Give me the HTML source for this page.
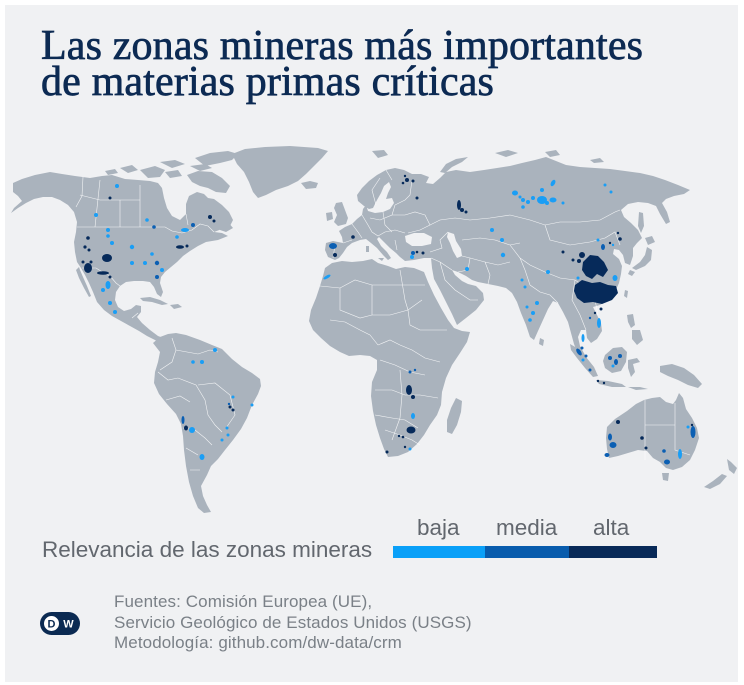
<!DOCTYPE html>
<html><head><meta charset="utf-8">
<style>
html,body{margin:0;padding:0;width:744px;height:685px;background:#fff;overflow:hidden;position:relative}
.panel{position:absolute;left:5px;top:5px;width:733px;height:677px;background:#f0f1f3}
.t{position:absolute;left:41px;font-family:"Liberation Serif",serif;color:#0c2a53;font-size:42px;line-height:42px;white-space:nowrap;-webkit-text-stroke:0.7px #0c2a53;letter-spacing:0.15px}
.s{position:absolute;font-family:"Liberation Sans",sans-serif;white-space:nowrap;line-height:1}
.lg{font-size:22.5px;color:#62676e}
.ft{font-size:17px;color:#7a8087;letter-spacing:0.1px;left:114px}
svg{position:absolute;left:0;top:0}
</style></head><body>
<div class="panel"></div>
<svg width="744" height="685" viewBox="0 0 744 685">
<g fill="#aab3bd">
<path d="M232,154 L245,149 L265,147 L290,146 L318,148 L328,151 L322,158 L314,166 L306,174 L298,181 L288,186 L276,190 L266,195 L258,198 L253,192 L249,182 L244,172 L237,164 Z"/>
<path d="M195,158 L210,153 L228,151 L238,154 L232,160 L220,163 L205,166 Z"/>
<path d="M190,166 L205,164 L212,168 L200,171 Z"/>
<path d="M187,175 L198,171 L212,172 L222,178 L230,186 L226,193 L216,192 L208,188 L200,186 L192,182 Z"/>
<path d="M140,170 L155,166 L165,170 L160,177 L148,178 Z"/>
<path d="M120,168 L132,165 L138,170 L128,173 Z"/>
<path d="M160,162 L175,160 L185,164 L172,168 Z"/>
<path d="M165,172 L178,170 L182,176 L170,178 Z"/>
<path d="M105,171 L115,169 L118,173 L108,175 Z"/>
<path d="M13,183 L22,179 L35,175 L50,172 L62,174 L75,176 L90,178 L102,176 L112,175 L125,179 L138,180 L150,181 L158,183 L162,188 L164,198 L167,208 L172,216 L180,220 L186,214 L186,204 L189,196 L197,192 L204,194 L208,198 L214,199 L222,205 L229,212 L233,220 L230,226 L222,229 L214,232 L222,233 L228,236 L218,240 L206,242 L198,246 L190,251 L183,256 L177,262 L171,267 L165,272 L161,277 L160,283 L163,292 L161,297 L157,294 L154,287 L150,282 L143,281 L134,281 L126,282 L120,286 L116,292 L115,300 L118,307 L124,311 L131,309 L136,305 L141,306 L141,312 L137,317 L142,323 L150,330 L158,336 L166,339 L172,342 L170,346 L162,344 L155,340 L147,336 L139,331 L130,326 L121,321 L112,316 L104,310 L97,302 L93,292 L89,283 L85,275 L81,268 L77,262 L75,252 L74,242 L76,232 L77,222 L74,212 L68,205 L60,200 L52,197 L43,197 L34,199 L26,203 L18,208 L11,213 L14,208 L22,201 L18,196 L13,192 Z"/>
<path d="M79,267 L76,270 L79,278 L84,288 L89,297 L91,296 L87,286 L83,277 L80,270 Z"/>
<path d="M140,298 L150,297 L160,300 L168,304 L162,305 L152,302 L143,301 Z"/>
<path d="M170,305 L178,304 L182,307 L174,309 Z"/>
<path d="M220,224 L228,222 L233,228 L226,232 L220,230 Z"/>
<path d="M153,343 L160,337 L168,334 L176,333 L186,335 L200,340 L212,345 L222,349 L232,359 L242,367 L252,373 L260,379 L261,386 L258,394 L252,405 L247,418 L241,429 L233,440 L225,450 L218,459 L211,466 L207,475 L201,486 L203,496 L207,505 L211,512 L204,513 L198,508 L193,496 L189,482 L186,466 L184,450 L183,436 L181,424 L176,414 L167,404 L159,394 L154,383 L155,372 L158,362 L160,352 Z"/>
<path d="M325,268 L332,263 L342,261 L352,262 L363,261 L372,259 L378,263 L388,266 L396,269 L405,267 L414,268 L424,272 L428,282 L434,295 L441,308 L448,320 L454,328 L462,331 L470,332 L467,342 L460,353 L452,365 L446,378 L442,392 L441,405 L437,415 L430,425 L424,435 L417,444 L408,452 L398,456 L388,457 L384,449 L380,438 L376,425 L373,411 L371,396 L372,382 L377,370 L377,360 L370,356 L360,355 L349,356 L340,352 L330,346 L321,338 L313,330 L309,321 L311,310 L316,298 L320,286 L323,276 Z"/>
<path d="M456,398 L462,401 L461,412 L457,425 L452,434 L447,432 L447,420 L451,408 Z"/>
<path d="M335,260 L328,257 L325,250 L326,243 L333,241 L343,243 L342,237 L339,231 L345,227 L352,224 L357,219 L362,215 L363,209 L366,205 L368,211 L375,213 L383,212 L390,209 L394,203 L392,198 L386,199 L388,193 L391,187 L389,182 L384,186 L381,193 L377,200 L373,208 L369,209 L364,206 L358,201 L357,195 L362,188 L369,181 L377,175 L386,170 L395,168 L404,170 L412,174 L421,174 L429,177 L426,183 L433,184 L440,178 L446,172 L456,170 L470,172 L484,170 L497,168 L510,166 L522,163 L535,160 L546,157 L556,161 L566,165 L580,167 L595,168 L610,169 L625,171 L640,173 L653,176 L665,180 L678,185 L690,190 L684,194 L674,196 L666,199 L662,203 L667,212 L670,222 L666,224 L660,214 L656,206 L648,203 L638,202 L628,204 L621,210 L624,217 L631,223 L638,230 L642,238 L637,243 L633,248 L633,256 L630,265 L625,263 L623,255 L619,250 L614,249 L613,254 L619,259 L622,266 L621,274 L619,283 L615,292 L609,299 L600,305 L593,307 L597,315 L601,323 L602,331 L597,339 L591,343 L587,338 L586,330 L581,330 L578,337 L580,346 L585,355 L588,362 L584,362 L578,354 L574,344 L571,333 L568,322 L563,312 L558,303 L553,301 L548,309 L543,320 L538,331 L534,340 L530,337 L526,325 L521,313 L517,302 L512,293 L506,288 L498,286 L488,284 L478,282 L472,280 L466,276 L458,272 L452,270 L455,275 L462,281 L468,284 L476,286 L483,293 L484,300 L476,310 L466,318 L457,325 L452,314 L446,302 L440,290 L434,279 L432,268 L431,258 L424,258 L414,260 L405,261 L400,257 L396,253 L390,248 L384,242 L379,237 L377,239 L381,246 L387,252 L391,258 L388,260 L383,255 L377,248 L371,243 L366,239 L360,240 L352,243 L347,247 L343,253 L339,258 Z"/>
<path d="M336,203 L342,202 L345,210 L348,218 L346,224 L338,226 L334,222 L337,215 L334,208 Z"/>
<path d="M326,213 L332,212 L333,219 L327,221 Z"/>
<path d="M301,183 L310,181 L318,183 L316,188 L306,189 Z"/>
<path d="M372,151 L384,150 L388,155 L378,158 Z"/>
<path d="M440,172 L446,164 L456,159 L468,157 L462,162 L452,167 L445,173 Z"/>
<path d="M495,153 L508,150 L518,153 L506,157 Z"/>
<path d="M545,152 L556,150 L560,155 L550,157 Z"/>
<path d="M590,160 L600,158 L604,162 L594,163 Z"/>
<path d="M639,212 L643,213 L644,226 L641,233 L638,226 Z"/>
<path d="M645,238 L652,236 L655,242 L648,245 Z"/>
<path d="M647,247 L652,250 L651,260 L645,266 L636,270 L632,268 L640,262 L645,255 Z"/>
<path d="M630,270 L635,272 L632,276 L628,274 Z"/>
<path d="M625,290 L628,291 L627,298 L624,296 Z"/>
<path d="M590,311 L595,311 L594,316 L590,315 Z"/>
<path d="M540,338 L544,340 L543,346 L539,344 Z"/>
<path d="M627,315 L633,314 L635,325 L631,328 L628,322 Z"/>
<path d="M632,330 L640,330 L643,340 L637,345 L632,339 Z"/>
<path d="M570,344 L577,348 L586,357 L594,367 L598,376 L593,377 L585,368 L577,358 L571,350 Z"/>
<path d="M605,355 L613,348 L622,347 L627,352 L626,362 L621,371 L612,373 L605,368 L603,361 Z"/>
<path d="M596,380 L608,381 L622,384 L626,387 L612,387 L599,384 Z"/>
<path d="M628,387 L640,387 L648,389 L636,390 Z"/>
<path d="M628,360 L637,358 L640,362 L633,364 L635,372 L631,377 L628,368 Z"/>
<path d="M660,366 L672,364 L684,368 L694,375 L702,384 L698,388 L688,385 L678,380 L668,376 L660,372 Z"/>
<path d="M607,427 L615,419 L627,411 L636,404 L644,400 L652,398 L660,397 L666,402 L673,404 L676,400 L679,393 L683,398 L686,409 L692,418 L697,428 L699,438 L695,450 L690,460 L682,467 L673,470 L666,468 L660,462 L653,458 L647,451 L638,450 L628,453 L618,456 L609,458 L607,449 L606,438 Z"/>
<path d="M662,473 L669,473 L668,481 L663,480 Z"/>
<path d="M727,459 L731,462 L737,468 L734,474 L729,470 Z"/>
<path d="M722,474 L727,476 L720,484 L710,489 L704,487 L713,481 Z"/>
<path d="M366,246 L369,246 L369,252 L366,252 Z"/>
<path d="M378,258 L384,258 L382,261 Z"/>
</g>
<g fill="#f0f1f3">
<path d="M405,236 L414,233 L424,233 L432,237 L431,244 L422,246 L412,246 L406,242 Z"/>
<path d="M448,232 L454,234 L456,241 L461,249 L462,256 L457,258 L453,251 L450,243 L447,237 Z"/>
</g>
<g fill="none" stroke="#fff" stroke-width="0.6" stroke-opacity="0.85">
<path d="M77,227 L165,227 L172,231 L182,233 L192,230 L200,224 L208,226 L214,232"/>
<path d="M83,177 L82,196 L76,207"/>
<path d="M82,268 L96,268 L104,273 L110,276 L116,283 L120,286"/>
<path d="M132,318 L138,313"/>
<path d="M100,180 L95,227 M120,200 L120,227 M140,185 L140,227 M80,195 L100,200 L140,200 M186,214 L188,225"/>
<path d="M172,338 L176,350 L172,362 L160,370 M176,350 L198,354 L210,350 L218,352 M158,372 L168,380 L178,378 L196,385 L205,400 L208,415 L215,425 L222,432 M166,400 L180,396 L190,402 M183,428 L195,430 L205,438 L212,445 M186,448 L198,455 M190,470 L200,470 M198,385 L215,383 L230,395 L235,415 L226,428"/>
<path d="M320,286 L340,288 L355,280 L372,285 L390,285 L410,285 L425,285 M340,288 L340,310 L360,318 L372,315 L390,315 L408,310 L422,300 M372,285 L372,315 M400,270 L405,300 L408,310 L410,325 L420,330 L435,330 L447,330 M330,320 L345,322 L360,330 L370,335 L378,345 M378,345 L390,340 L400,345 L412,350 L425,358 L440,362 M380,360 L395,365 L410,372 L425,375 M375,390 L392,390 L405,395 L420,395 L438,398 M375,415 L392,418 L405,420 L418,428 M385,430 L400,435 L412,440 L420,445 M400,370 L402,395 L400,418 L392,440"/>
<path d="M343,243 L352,240 M335,245 L333,258 M352,224 L358,232 L362,238 M362,215 L368,225 L372,232 L378,236 M370,218 L380,220 L392,215 L395,205 M378,236 L385,232 L395,230 L405,233 M383,212 L385,225 L392,232 M392,215 L405,215 L415,212 L425,215 L430,225 L420,230 L408,233 M395,205 L405,200 L410,195 L412,180 M376,205 L372,190 L380,178 M386,170 L392,180 M395,240 L397,250"/>
<path d="M430,225 L440,220 L455,218 L470,220 L490,218 L510,215 L530,220 L545,225 L560,222 L580,222 L600,220 L615,212 L620,210 M448,232 L440,240 L442,248 L430,252 M462,256 L470,258 L485,262 L498,265 L510,262 M462,240 L480,238 L495,240 L510,245 L520,243 M510,245 L520,258 L530,265 L545,272 L560,278 L575,280 L590,290 L600,300 M545,225 L550,240 L570,245 L590,242 L605,238 L615,232 L620,245 M485,262 L490,275 L488,284 M470,258 L468,270 L458,272 M520,258 L525,270 L530,285 L540,292 L550,295 L558,303 M575,280 L572,300 L580,315 L586,330 M590,290 L595,300 L598,315 M431,258 L440,262 L452,270 M440,262 L445,280 L455,290 L470,300 L478,300"/>
<path d="M645,400 L645,460 M645,425 L675,425 M675,403 L675,450 L690,455"/>
</g>
<g fill="#1a9ef5">
<circle cx="117" cy="186" r="2"/><circle cx="96" cy="215" r="2"/><circle cx="147" cy="220" r="1.8"/>
<ellipse cx="185" cy="230" rx="4" ry="2"/><circle cx="108" cy="230" r="2"/><circle cx="108" cy="236" r="1.8"/>
<circle cx="112" cy="243" r="2"/><circle cx="132" cy="247" r="2.2"/><circle cx="177" cy="237" r="1.8"/>
<circle cx="152" cy="254" r="1.8"/><circle cx="132" cy="263" r="2"/><circle cx="145" cy="263" r="2"/>
<circle cx="162" cy="270" r="2"/><ellipse cx="108" cy="285" rx="2.5" ry="4"/><circle cx="103" cy="290" r="2"/>
<circle cx="110" cy="303" r="2"/><circle cx="115" cy="312" r="2"/>
<ellipse cx="327" cy="277" rx="4" ry="1.5" transform="rotate(-30 327 277)"/>
<ellipse cx="515" cy="193" rx="3" ry="2.5"/><circle cx="523" cy="200" r="2"/><circle cx="528" cy="202" r="2"/>
<circle cx="520" cy="197" r="1.5"/><circle cx="542" cy="190" r="2"/><ellipse cx="542" cy="200" rx="5" ry="4"/>
<ellipse cx="553" cy="183" rx="2" ry="3.5" transform="rotate(30 553 183)"/><ellipse cx="553" cy="200" rx="3.5" ry="2.5"/>
<circle cx="563" cy="203" r="1.5"/><circle cx="605" cy="185" r="1.5"/><circle cx="611" cy="192" r="1.5"/>
<circle cx="523" cy="207" r="1.8"/><circle cx="533" cy="198" r="2"/><circle cx="547" cy="203" r="2"/>
<circle cx="492" cy="230" r="2"/><circle cx="502" cy="240" r="2"/><circle cx="503" cy="255" r="2.2"/><circle cx="467" cy="269" r="2"/>
<circle cx="412" cy="257" r="2"/><circle cx="548" cy="272" r="2"/><circle cx="598" cy="240" r="1.5"/><circle cx="613" cy="245" r="1.2"/>
<ellipse cx="615" cy="278" rx="2.5" ry="3"/><circle cx="578" cy="278" r="1.5"/>
<ellipse cx="599" cy="323" rx="2" ry="5"/><ellipse cx="583" cy="338" rx="1.5" ry="4"/>
<circle cx="522" cy="280" r="1.5"/><circle cx="525" cy="287" r="1.5"/><circle cx="537" cy="303" r="2"/>
<circle cx="533" cy="313" r="2"/><circle cx="530" cy="320" r="1.8"/><circle cx="527" cy="307" r="1.5"/>
<circle cx="583" cy="360" r="1.5"/><circle cx="613" cy="366" r="1.5"/>
<ellipse cx="413" cy="416" rx="2" ry="3"/><circle cx="410" cy="449" r="1.5"/>
<ellipse cx="680" cy="454" rx="2" ry="5"/><circle cx="688" cy="427" r="1.5"/>
<circle cx="215" cy="350" r="2"/><circle cx="193" cy="362" r="1.8"/><circle cx="202" cy="362" r="2"/>
<circle cx="233" cy="397" r="1.5"/><circle cx="252" cy="405" r="1.5"/><ellipse cx="192" cy="430" rx="3" ry="3"/>
<circle cx="227" cy="428" r="1.5"/><circle cx="228" cy="435" r="1.5"/><circle cx="222" cy="440" r="1.5"/>
<ellipse cx="202" cy="457" rx="2.5" ry="3"/>
</g>
<g fill="#0b5fb3">
<circle cx="154" cy="227" r="1.8"/><circle cx="193" cy="225" r="2"/><circle cx="157" cy="277" r="2"/><circle cx="157" cy="263" r="2.2"/>
<ellipse cx="333" cy="246" rx="4" ry="3"/><circle cx="413" cy="253" r="2"/>
<ellipse cx="603" cy="247" rx="2" ry="3"/><circle cx="590" cy="318" r="1.2"/><circle cx="582" cy="348" r="1.5"/>
<ellipse cx="579" cy="352" rx="2" ry="4" transform="rotate(-35 579 352)"/><circle cx="590" cy="370" r="1.5"/>
<circle cx="610" cy="358" r="2"/><ellipse cx="616" cy="362" rx="2" ry="3"/><circle cx="620" cy="356" r="2"/><circle cx="586" cy="356" r="1.5"/>
<circle cx="410" cy="372" r="1.5"/><circle cx="415" cy="370" r="1.2"/>
<ellipse cx="610" cy="437" rx="2" ry="3.5"/><ellipse cx="613" cy="445" rx="3.5" ry="3"/><ellipse cx="607" cy="455" rx="2.5" ry="2"/>
<circle cx="664" cy="451" r="1.8"/><ellipse cx="667" cy="462" rx="3" ry="2.5"/><ellipse cx="693" cy="432" rx="2.5" ry="6"/>
<circle cx="229" cy="404" r="1.2"/><ellipse cx="183" cy="420" rx="1.5" ry="4"/>
</g>
<g fill="#062a5a">
<circle cx="110" cy="198" r="1.5"/><circle cx="210" cy="217" r="2"/><circle cx="214" cy="221" r="1.5"/>
<circle cx="88" cy="238" r="1.8"/><circle cx="85" cy="247" r="1.6"/><circle cx="89" cy="250" r="1.5"/>
<ellipse cx="180" cy="247" rx="4" ry="1.8"/><circle cx="187" cy="246" r="1.5"/>
<ellipse cx="107" cy="258" rx="5" ry="4"/><ellipse cx="88" cy="268" rx="4" ry="5"/><circle cx="83" cy="262" r="1.5"/>
<ellipse cx="103" cy="273" rx="6" ry="1.8"/><circle cx="110" cy="277" r="1.5"/><circle cx="91" cy="262" r="1.5"/>
<circle cx="335" cy="255" r="2"/><circle cx="353" cy="237" r="1.8"/>
<circle cx="407" cy="180" r="2"/><circle cx="403" cy="183" r="1.3"/><circle cx="413" cy="181" r="1.5"/><circle cx="405" cy="176" r="1.2"/>
<circle cx="417" cy="198" r="1.5"/><ellipse cx="459" cy="205" rx="2" ry="5"/><circle cx="462" cy="210" r="2"/><circle cx="466" cy="212" r="1.5"/>
<circle cx="423" cy="253" r="1.5"/><circle cx="417" cy="252" r="1.3"/>
<circle cx="563" cy="252" r="1.5"/><circle cx="573" cy="260" r="1.5"/><ellipse cx="582" cy="255" rx="3" ry="3"/><circle cx="579" cy="261" r="2"/>
<circle cx="618" cy="233" r="1.2"/><circle cx="620" cy="239" r="1.8"/><circle cx="610" cy="243" r="1.2"/>
<path d="M583,262 L590,255 L598,256 L604,262 L608,270 L603,277 L597,274 L592,279 L586,276 L582,270 Z"/>
<path d="M575,285 L582,280 L592,283 L600,282 L608,285 L616,286 L618,293 L612,300 L602,304 L593,302 L584,303 L577,298 L574,291 Z"/>
<circle cx="601" cy="309" r="1.5"/><circle cx="595" cy="313" r="1.2"/>
<circle cx="598" cy="381" r="1.2"/><circle cx="604" cy="383" r="1.2"/>
<ellipse cx="409" cy="390" rx="3" ry="5"/><circle cx="413" cy="397" r="2"/><ellipse cx="411" cy="430" rx="4.5" ry="3.5"/>
<circle cx="403" cy="437" r="1.3"/><circle cx="399" cy="436" r="1.2"/><circle cx="387" cy="452" r="1.5"/><circle cx="405" cy="447" r="1.2"/>
<circle cx="618" cy="422" r="2"/><circle cx="642" cy="438" r="1.8"/><circle cx="646" cy="448" r="1.5"/><circle cx="692" cy="425" r="1.2"/>
<circle cx="230" cy="407" r="1.5"/><circle cx="233" cy="410" r="1.5"/><ellipse cx="186" cy="428" rx="2" ry="2.5"/>
</g>
<rect x="393" y="546" width="92" height="12" fill="#0aa0f8"/>
<rect x="485" y="546" width="84" height="12" fill="#085cad"/>
<rect x="569" y="546" width="88" height="12" fill="#082a58"/>
<rect x="40" y="612" width="40" height="23" rx="11.5" fill="#0b2a52"/>
<circle cx="51.5" cy="623.5" r="8" fill="#fff"/>
<circle cx="51.5" cy="623.5" r="8" fill="none" stroke="#0b2a52" stroke-width="1"/>
<text x="51.5" y="627.5" font-family="Liberation Sans, sans-serif" font-weight="bold" font-size="11" fill="#0b2a52" text-anchor="middle">D</text>
<text x="68.5" y="627.5" font-family="Liberation Sans, sans-serif" font-weight="bold" font-size="11" fill="#fff" text-anchor="middle">W</text>
</svg>
<div class="t" style="top:25px">Las zonas mineras más importantes</div>
<div class="t" style="top:61px">de materias primas críticas</div>
<div class="s lg" style="left:42px;top:539px">Relevancia de las zonas mineras</div>
<div class="s lg" style="left:417px;top:517px">baja</div>
<div class="s lg" style="left:496px;top:517px">media</div>
<div class="s lg" style="left:593px;top:517px">alta</div>
<div class="s ft" style="top:592.6px">Fuentes: Comisión Europea (UE),</div>
<div class="s ft" style="top:613.6px">Servicio Geológico de Estados Unidos (USGS)</div>
<div class="s ft" style="top:633.6px">Metodología: github.com/dw-data/crm</div>
</body></html>
